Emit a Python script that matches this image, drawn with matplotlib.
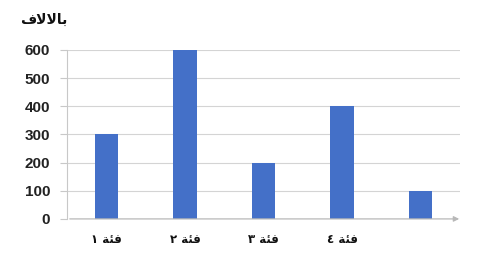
import matplotlib
matplotlib.use("Agg")
import matplotlib.pyplot as plt

# Data (Arabic text written in shaped, visual left-to-right order)
categories = ["\u0661 \uFE94\uFE8C\uFED3", "\u0662 \uFE94\uFE8C\uFED3",
              "\u0663 \uFE94\uFE8C\uFED3", "\u0664 \uFE94\uFE8C\uFED3", ""]
values = [300, 600, 200, 400, 100]
yticks = [0, 100, 200, 300, 400, 500, 600]
title = "\uFED1\uFEFB\uFEFB\uFE8E\uFE91"  # بالالاف

plt.rcParams['font.family'] = ['DejaVu Sans']

fig = plt.figure(figsize=(5, 2.6), dpi=100)
ax = fig.add_axes([0.134, 0.158, 0.786, 0.65])

x = list(range(len(values)))
ax.bar(x, values, width=0.3, color="#4470C8", zorder=3)

ax.set_xlim(-0.5, 4.5)
ax.set_ylim(0, 600)
ax.set_yticks(yticks)
ax.set_yticklabels([str(v) for v in yticks], fontsize=11, fontweight="bold",
                   color="#222222", family=["Liberation Sans", "DejaVu Sans"])
ax.set_xticks(x)
ax.set_xticklabels(categories, fontsize=8.5, fontweight="bold", color="#111111")
ax.tick_params(axis="x", length=0, pad=10)
ax.tick_params(axis="y", length=5, color="#c8c8c8", pad=7)

ax.grid(axis="y", color="#d4d4d4", linewidth=0.8, zorder=0)
for s in ["top", "right", "bottom"]:
    ax.spines[s].set_visible(False)
ax.spines["left"].set_color("#c8c8c8")
ax.spines["left"].set_linewidth(0.8)

# bottom axis with arrow
ax.annotate("", xy=(1.005, 0), xytext=(0, 0), xycoords="axes fraction",
            arrowprops=dict(arrowstyle="-|>", color="#b8b8b8", lw=0.9,
                            mutation_scale=8), annotation_clip=False)

fig.text(0.04, 0.925, title, fontsize=10, fontweight="bold", color="#111111",
         ha="left", va="center")

fig.savefig("out.png", dpi=100)
